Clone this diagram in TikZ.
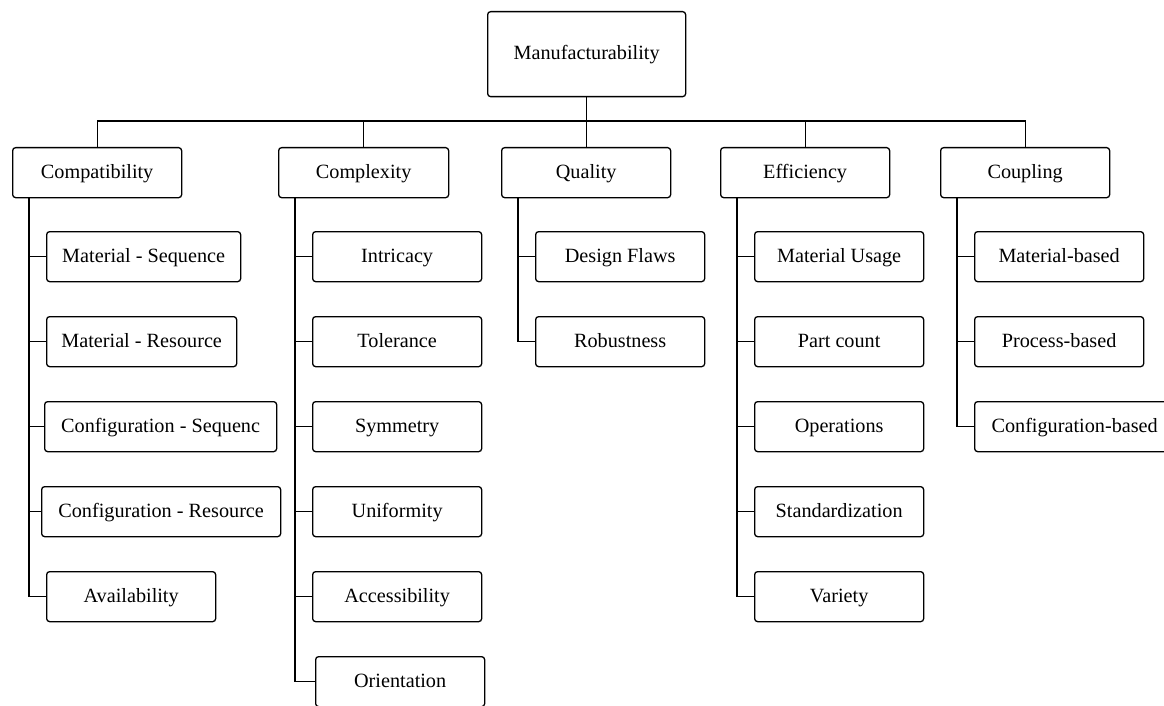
\documentclass[tikz,border=0pt]{standalone}
\usepackage{fontspec}
\setmainfont{Liberation Serif}
\begin{document}
\begin{tikzpicture}[x=1bp,y=-1bp,
  box/.style={draw, line width=1.3bp, rounded corners=3bp, inner sep=0pt, anchor=north west,
    font=\fontsize{20.3}{24}\selectfont, text height=15bp, text depth=3bp, minimum height=50bp},
  conn/.style={line width=1.3bp}]
\useasboundingbox (0,0) rectangle (1164,706);
% root
\node[box, minimum width=198bp, minimum height=85bp, text depth=4.4bp] (root) at (487,11) {Manufacturability};
% level 1
\node[box, minimum width=169bp] (compat) at (12,147) {Compatibility};
\node[box, minimum width=170bp] (cplx) at (278,147) {Complexity};
\node[box, minimum width=169bp] (qual) at (501,147) {Quality};
\node[box, minimum width=169bp] (eff) at (720,147) {Efficiency};
\node[box, minimum width=169bp] (coup) at (940,147) {Coupling};
% compatibility children
\node[box, minimum width=194bp] (ms) at (46,231) {Material - Sequence};
\node[box, minimum width=190bp] (mr) at (46,316) {Material - Resource};
\node[box, minimum width=232bp] (cs) at (44,401) {Configuration - Sequenc};
\node[box, minimum width=239bp] (cr) at (41,486) {Configuration - Resource};
\node[box, minimum width=169bp] (av) at (46,571) {Availability};
% complexity children
\node[box, minimum width=169bp] (intr) at (312,231) {Intricacy};
\node[box, minimum width=169bp] (tol) at (312,316) {Tolerance};
\node[box, minimum width=169bp] (sym) at (312,401) {Symmetry};
\node[box, minimum width=169bp] (uni) at (312,486) {Uniformity};
\node[box, minimum width=169bp] (acc) at (312,571) {Accessibility};
\node[box, minimum width=169bp] (ori) at (315,656) {Orientation};
% quality children
\node[box, minimum width=169bp] (df) at (535,231) {Design Flaws};
\node[box, minimum width=169bp] (rob) at (535,316) {Robustness};
% efficiency children
\node[box, minimum width=169bp] (mu) at (754,231) {Material Usage};
\node[box, minimum width=169bp] (pc) at (754,316) {Part count};
\node[box, minimum width=169bp] (op) at (754,401) {Operations};
\node[box, minimum width=169bp] (std) at (754,486) {Standardization};
\node[box, minimum width=169bp] (var) at (754,571) {Variety};
% coupling children
\node[box, minimum width=169bp] (mb) at (974,231) {Material-based};
\node[box, minimum width=169bp] (pb) at (974,316) {Process-based};
\node[box, minimum width=200bp] (cb) at (974,401) {Configuration-based};
% bus
\coordinate (bus) at (586,121);
\draw[conn] (root.south) -- (root.south |- bus);
\draw[conn] (compat.north) -- (compat.north |- bus) -- (coup.north |- bus) -- (coup.north);
\draw[conn] (cplx.north) -- (cplx.north |- bus);
\draw[conn] (qual.north) -- (qual.north |- bus);
\draw[conn] (eff.north) -- (eff.north |- bus);
% children connectors
\foreach \p/\c in {compat/ms, compat/mr, compat/cs, compat/cr, compat/av,
                   cplx/intr, cplx/tol, cplx/sym, cplx/uni, cplx/acc, cplx/ori,
                   qual/df, qual/rob,
                   eff/mu, eff/pc, eff/op, eff/std, eff/var,
                   coup/mb, coup/pb, coup/cb}
  \draw[conn] ([xshift=17bp]\p.south west) |- (\c.west);
\end{tikzpicture}
\end{document}
